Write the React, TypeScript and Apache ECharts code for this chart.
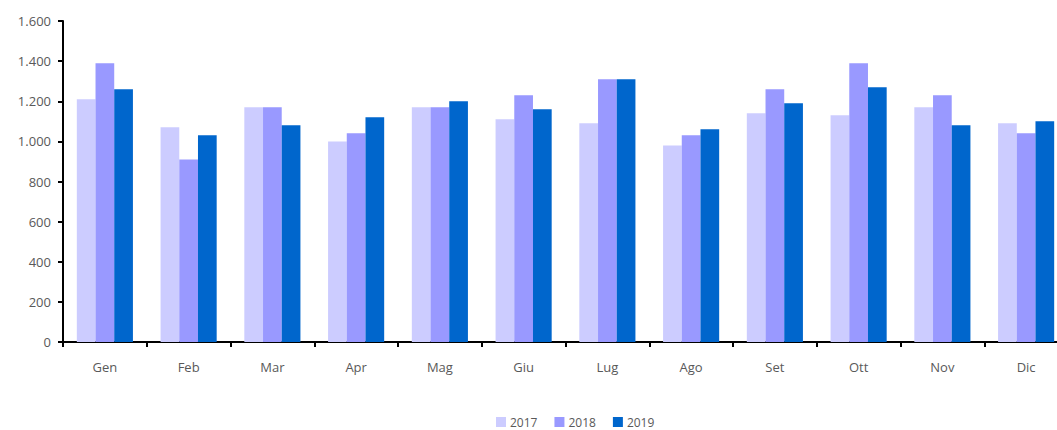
import React, { useEffect, useRef } from "react";
import * as echarts from "echarts";

const categories = ["Gen", "Feb", "Mar", "Apr", "Mag", "Giu", "Lug", "Ago", "Set", "Ott", "Nov", "Dic"];
const s2017 = [1210, 1070, 1170, 1000, 1170, 1110, 1090, 980, 1140, 1130, 1170, 1090];
const s2018 = [1390, 910, 1170, 1040, 1170, 1230, 1310, 1030, 1260, 1390, 1230, 1040];
const s2019 = [1260, 1030, 1080, 1120, 1200, 1160, 1310, 1060, 1190, 1270, 1080, 1100];
const seriesNames = ["2017", "2018", "2019"];
const colors = ["#CCCCFF", "#9999FF", "#0066CC"];

const font = "'Open Sans', 'Noto Sans', sans-serif";

export default function App() {
  const ref = useRef<HTMLDivElement>(null);
  useEffect(() => {
    if (!ref.current) return;
    const chart = echarts.init(ref.current, undefined, { renderer: "svg" });
    const data = [s2017, s2018, s2019];
    chart.setOption({
      animation: false,
      textStyle: { fontFamily: font },
      grid: { left: 63, right: 0, top: 21, bottom: 88 },
      legend: {
        top: 416,
        left: 496,
        padding: 0,
        itemWidth: 10,
        itemHeight: 10,
        itemGap: 17,
        icon: "rect",
        textStyle: { fontFamily: font, fontSize: 12, color: "#595959", padding: [0, 0, 0, -1] },
        data: seriesNames,
      },
      xAxis: {
        type: "category",
        data: categories,
        axisLine: { lineStyle: { color: "#000", width: 2 } },
        axisTick: { show: true, length: 5, lineStyle: { color: "#000", width: 2 } },
        axisLabel: { fontFamily: font, fontSize: 13, color: "#595959", margin: 18 },
      },
      yAxis: {
        type: "value",
        min: 0,
        max: 1600,
        interval: 200,
        splitLine: { show: false },
        axisLine: { show: true, lineStyle: { color: "#000", width: 2 } },
        axisTick: { show: true, length: 5, lineStyle: { color: "#000", width: 2 } },
        axisLabel: {
          fontFamily: font,
          fontSize: 13,
          color: "#595959",
          margin: 12,
          formatter: (v: number) => v.toString().replace(/\B(?=(\d{3})+(?!\d))/g, "."),
        },
      },
      series: seriesNames.map((n, i) => ({
        name: n,
        type: "bar",
        data: data[i],
        itemStyle: { color: colors[i] },
        barGap: "0%",
        barCategoryGap: "33%",
      })),
    });
    return () => chart.dispose();
  }, []);
  return (
    <div style={{ position: "absolute", left: 0, top: 0, width: 1057, height: 430, overflow: "hidden" }}>
      <div ref={ref} style={{ width: 1068, height: 430 }} />
    </div>
  );
}
